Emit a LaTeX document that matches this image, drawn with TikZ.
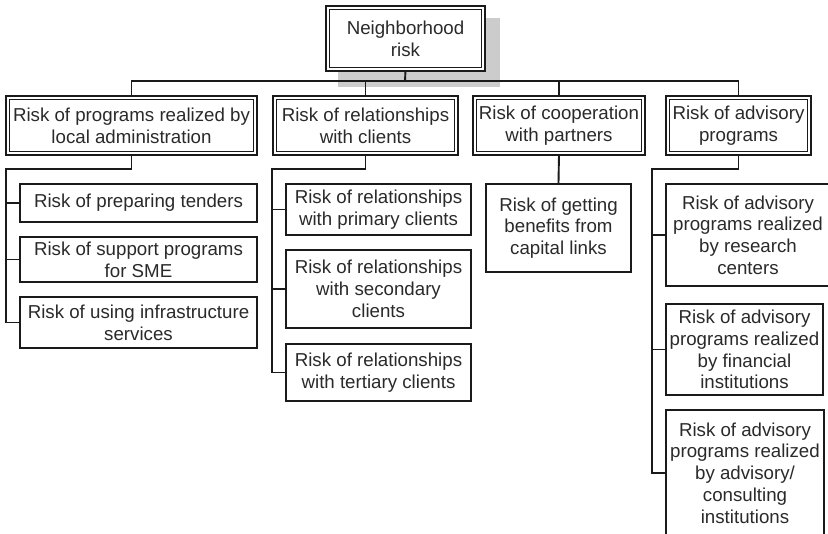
\documentclass[tikz,border=0pt]{standalone}
\usepackage{fontspec}
\setmainfont{Liberation Sans}
\begin{document}
\begin{tikzpicture}[x=1pt,y=-1pt,
  every node/.style={inner sep=0pt, align=center, text=textgray,
    font=\fontsize{18.7}{21.7}\selectfont},
  headbox/.style={draw=linegray, line width=1.7pt, double=white,
    double distance=2.0pt, fill=white},
  leafbox/.style={draw=linegray, line width=1.7pt, fill=white},
  link/.style={draw=linegray, line width=1.9pt}]
\definecolor{textgray}{HTML}{2A2A2A}
\definecolor{linegray}{HTML}{1A1A1A}
\definecolor{shadowgray}{HTML}{CCCCCC}
\clip (0,0) rectangle (828,534);
\fill[white] (0,0) rectangle (828,534);

% shadow of the root box
\fill[shadowgray] (338,18) rectangle (500,87);

% root
\node[headbox, minimum width=155.6pt, minimum height=61.6pt] (N) at (405.5,38.5)
  {Neighborhood\\risk};

% first level
\node[headbox, minimum width=247.6pt, minimum height=55.6pt] (A) at (131.5,125.5)
  {Risk of programs realized by\\local administration};
\node[headbox, minimum width=181.6pt, minimum height=55.6pt] (B) at (365.5,125.5)
  {Risk of relationships\\with clients};
\node[headbox, minimum width=168.6pt, minimum height=55.6pt] (C) at (559,125.5)
  {Risk of cooperation\\with partners};
\node[headbox, minimum width=141.6pt, minimum height=55.6pt] (D) at (738.5,125.5)
  {Risk of advisory\\programs};

% second level
\node[leafbox, minimum width=237.3pt, minimum height=38.3pt] (A1) at (138.5,203)
  {Risk of preparing tenders};
\node[leafbox, minimum width=237.3pt, minimum height=45.3pt] (A2) at (138.5,259.5)
  {Risk of support programs\\for SME};
\node[leafbox, minimum width=237.3pt, minimum height=51.3pt] (A3) at (138.5,322.5)
  {Risk of using infrastructure\\services};

\node[leafbox, minimum width=185.3pt, minimum height=51.3pt] (B1) at (378.5,209.5)
  {Risk of relationships\\with primary clients};
\node[leafbox, minimum width=185.3pt, minimum height=78.3pt] (B2) at (378.5,289)
  {Risk of relationships\\with secondary\\clients};
\node[leafbox, minimum width=185.3pt, minimum height=57.3pt] (B3) at (378.5,372.5)
  {Risk of relationships\\with tertiary clients};

\node[leafbox, minimum width=145.3pt, minimum height=88.3pt] (C1) at (558.5,228)
  {Risk of getting\\benefits from\\capital links};

\node[leafbox, minimum width=164.3pt, minimum height=102.3pt] (D1) at (748,235)
  {Risk of advisory\\programs realized\\by research\\centers};
\node[leafbox, minimum width=157.3pt, minimum height=91.3pt] (D2) at (744.5,349.5)
  {Risk of advisory\\programs realized\\by financial\\institutions};
\node[leafbox, minimum width=158.3pt, minimum height=126.3pt] (D3) at (745,473)
  {Risk of advisory\\programs realized\\by advisory/\\consulting\\institutions};

% junction points
\coordinate (bus) at (405,81);
\coordinate (Aj) at (6,169);
\coordinate (Bj) at (272,169);
\coordinate (Dj) at (652,169);

% root to first level
\path[link] (N.south) -- (bus);
\path[link] (bus) -| (A.north);
\path[link] (bus) -| (B.north);
\path[link] (bus) -| (C.north);
\path[link] (bus) -| (D.north);

% first level to second level
\path[link] (A.south) |- (Aj) |- (A1.west);
\path[link] (Aj) |- (A2.west);
\path[link] (Aj) |- (A3.west);

\path[link] (B.south) |- (Bj) |- (B1.west);
\path[link] (Bj) |- (B2.west);
\path[link] (Bj) |- (B3.west);

\path[link] (C.south) -- (C1.north);

\path[link] (D.south) |- (Dj) |- (D1.west);
\path[link] (Dj) |- (D2.west);
\path[link] (Dj) |- (D3.west);
\end{tikzpicture}
\end{document}
